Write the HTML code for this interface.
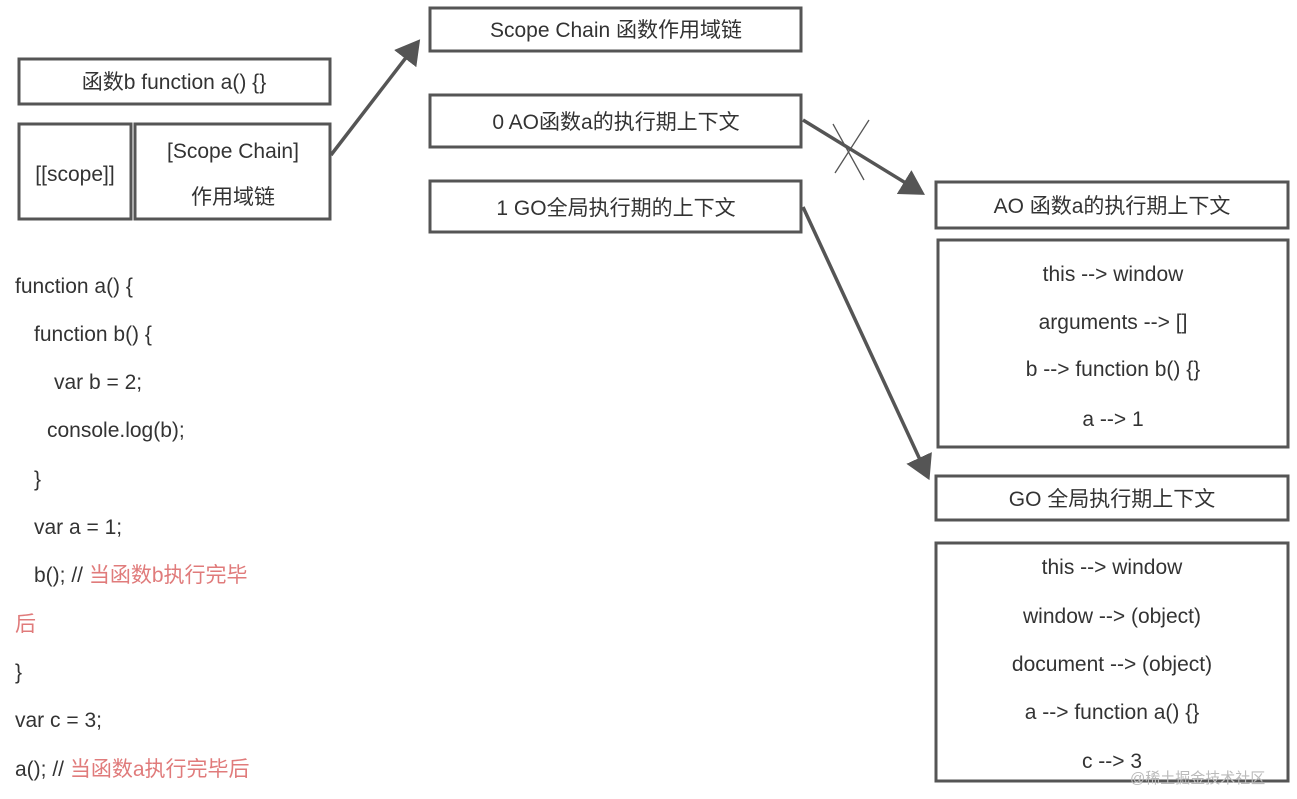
<!DOCTYPE html>
<html><head><meta charset="utf-8"><style>
body{margin:0;background:#fff;}
svg text{font-family:"Liberation Sans","Noto Sans CJK SC",sans-serif;fill:#333;font-size:21px;}
</style></head><body>
<svg width="1297" height="794" viewBox="0 0 1297 794" xmlns="http://www.w3.org/2000/svg">
<defs><marker id="ah" markerWidth="8" markerHeight="8" refX="6" refY="4" orient="auto" markerUnits="strokeWidth"><path d="M0,0 L7,4 L0,8 z" fill="#555"/></marker></defs>
<g fill="none" stroke="#555" stroke-width="3">
<rect x="19" y="59" width="311" height="45"/>
<rect x="19" y="124" width="112" height="95"/>
<rect x="135" y="124" width="195" height="95"/>
<rect x="430" y="8" width="371" height="43"/>
<rect x="430" y="95" width="371" height="52"/>
<rect x="430" y="181" width="371" height="51"/>
<rect x="936" y="182" width="352" height="46"/>
<rect x="938" y="240" width="350" height="207"/>
<rect x="936" y="476" width="352" height="44"/>
<rect x="936" y="543" width="352" height="238"/>
<line x1="331" y1="155" x2="418" y2="42" stroke-width="3.5" marker-end="url(#ah)"/>
<line x1="803" y1="120" x2="922" y2="193" stroke-width="3.5" marker-end="url(#ah)"/>
<line x1="803" y1="207" x2="928" y2="477" stroke-width="3.5" marker-end="url(#ah)"/>
<line x1="835" y1="173" x2="869" y2="120" stroke-width="1.3"/>
<line x1="833" y1="124" x2="864" y2="180" stroke-width="1.3"/>
</g>
<g text-anchor="middle">
<text x="174" y="89">函数b function a() {}</text>
<text x="75" y="181">[[scope]]</text>
<text x="233" y="158">[Scope Chain]</text>
<text x="233" y="204">作用域链</text>
<text x="616" y="37">Scope Chain 函数作用域链</text>
<text x="616" y="129">0 AO函数a的执行期上下文</text>
<text x="616" y="215">1 GO全局执行期的上下文</text>
<text x="1112" y="213">AO 函数a的执行期上下文</text>
<text x="1113" y="281">this --&gt; window</text>
<text x="1113" y="329">arguments --&gt; []</text>
<text x="1113" y="376">b --&gt; function b() {}</text>
<text x="1113" y="426">a --&gt; 1</text>
<text x="1112" y="506">GO 全局执行期上下文</text>
<text x="1112" y="574">this --&gt; window</text>
<text x="1112" y="623">window --&gt; (object)</text>
<text x="1112" y="671">document --&gt; (object)</text>
<text x="1112" y="719">a --&gt; function a() {}</text>
<text x="1112" y="768">c --&gt; 3</text>
</g>
<g>
<text x="15" y="293">function a() {</text>
<text x="34" y="341">function b() {</text>
<text x="54" y="389">var b = 2;</text>
<text x="47" y="437">console.log(b);</text>
<text x="34" y="486">}</text>
<text x="34" y="534">var a = 1;</text>
<text x="34" y="582">b();  // <tspan style="fill:#e07b7b">当函数b执行完毕</tspan></text>
<text x="15" y="631" style="fill:#e07b7b">后</text>
<text x="15" y="679">}</text>
<text x="15" y="727">var c = 3;</text>
<text x="15" y="776">a(); // <tspan style="fill:#e07b7b">当函数a执行完毕后</tspan></text>
<text x="1130" y="783" style="font-size:15px;fill:#bbb">@稀土掘金技术社区</text>
</g>
</svg>
</body></html>
